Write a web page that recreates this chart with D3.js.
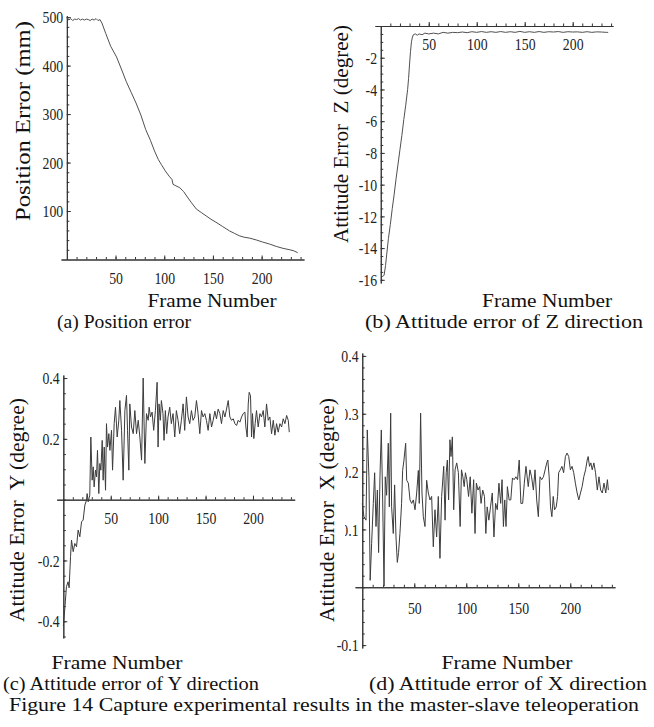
<!DOCTYPE html>
<html>
<head>
<meta charset="utf-8">
<script src="https://cdn.jsdelivr.net/npm/d3@7"></script>
<style>
body { margin: 0; background: #fff; }
svg { display: block; font-family: "Liberation Serif", "Times New Roman", serif; }
.axis text { font-family: "Liberation Serif", serif; font-size: 15px; fill: #222; }
.axis path, .axis line { stroke: #333; stroke-width: 1; }
.title { font-family: "Liberation Serif", serif; font-size: 21px; fill: #111; white-space: pre; }
.cap { font-family: "Liberation Serif", serif; fill: #111; }
</style>
</head>
<body>
<svg id="fig" width="654" height="727"></svg>
<script>
// tick labels
var frameTicks = [50, 100, 150, 200];
var posTicks = [100, 200, 300, 400, 500];
var zTicks = [-2, -4, -6, -8, -10, -12, -14, -16];
var yTicks = [0.4, 0.2, -0.2, -0.4];
var xTicks = [0.4, 0.3, 0.2, 0.1, -0.1];

// (a) position error
var framesA = [0, 2, 4, 6, 8, 10, 12, 14, 16, 18, 20, 22, 24, 26, 28, 30, 32, 34, 36, 40, 45, 51, 56, 61, 66, 71, 76, 81, 86, 90, 94, 97, 101, 105, 108, 109, 112, 116, 120, 123, 128, 133, 138, 143, 148, 153, 160, 167, 172, 177, 182, 188, 195, 201, 208, 215, 222, 229, 233, 237];
var posErr = [500, 494, 497, 493, 496, 495, 497, 494, 496, 494, 496, 495, 493, 496, 494, 497, 493, 495, 488, 466, 440, 418, 393, 367, 345, 323, 298, 268, 245, 224, 206, 196, 183, 172, 165, 155, 152, 148, 140, 131, 117, 104, 97, 90, 83, 77, 68, 59, 54, 49, 46, 44, 40, 36, 32, 27, 23, 20, 18, 14];

// (b) attitude error Z
var framesB = [0.5, 2, 3.5, 5, 6, 8, 10, 12, 14, 16, 18, 20, 22, 24, 26, 28, 29, 30, 31, 32, 33, 34, 36, 38, 40, 43, 46, 50, 55, 60, 65, 70, 75, 80, 85, 90, 95, 100, 105, 110, 115, 120, 125, 130, 135, 140, 145, 150, 155, 160, 165, 170, 175, 180, 185, 190, 195, 200, 205, 210, 215, 220, 225, 230, 235, 237];
var attZ = [-15.7, -15.8, -15.7, -15.1, -14.5, -13.4, -12.5, -11.5, -10.6, -9.6, -8.7, -7.8, -6.9, -5.9, -5.0, -4.0, -3.3, -2.4, -1.6, -1.0, -0.7, -0.55, -0.5, -0.58, -0.5, -0.55, -0.45, -0.5, -0.45, -0.5, -0.4, -0.45, -0.4, -0.42, -0.38, -0.42, -0.36, -0.4, -0.35, -0.4, -0.36, -0.4, -0.35, -0.4, -0.36, -0.4, -0.34, -0.4, -0.36, -0.4, -0.35, -0.4, -0.36, -0.38, -0.35, -0.4, -0.36, -0.38, -0.37, -0.4, -0.36, -0.4, -0.37, -0.38, -0.4, -0.4];

// (c) attitude error Y
var framesC = [0, 1.5, 3.3, 5, 6.1, 7.6, 8.6, 10.4, 12.1, 13.9, 15.6, 17.4, 19.2, 20.9, 22.7, 24.4, 25.1, 26.2, 27.9, 29.0, 30.4, 31.5, 32.5, 33.9, 35.0, 36.0, 37.4, 38.5, 39.6, 41.0, 42.0, 43.1, 44.5, 45.5, 46.6, 48.0, 49.1, 50.8, 51.9, 53.6, 55.0, 56.8, 58.5, 59.6, 61.4, 63.1, 64.9, 66.6, 67.7, 69.1, 70.1, 71.9, 73.7, 75.4, 77.2, 79.0, 80.7, 82.5, 84.2, 86.0, 87.7, 89.5, 90.5, 91.9, 93.6, 95.3, 97.1, 98.9, 99.9, 100.9, 102.3, 103.4, 105.1, 106.2, 107.6, 109.0, 110.4, 112.2, 113.9, 115.7, 117.5, 119.2, 121.0, 122.7, 124.5, 126.3, 128.0, 129.8, 131.6, 133.3, 135.1, 136.8, 138.6, 140.4, 142.1, 143.9, 145.7, 147.4, 149.2, 150.9, 152.7, 154.5, 156.3, 158.0, 159.8, 161.5, 163.3, 165.1, 166.8, 168.6, 170.4, 172.1, 173.9, 175.6, 177.4, 179.2, 180.9, 182.7, 184.4, 186.2, 188.0, 189.7, 191.5, 192.5, 193.9, 195.0, 196.0, 197.4, 198.5, 199.5, 200.9, 202.3, 203.7, 205.5, 207.3, 209.0, 210.8, 212.5, 214.3, 216.1, 217.8, 219.6, 221.4, 223.1, 224.9, 226.6, 228.4, 230.2, 231.9, 233.7, 235.5, 237.2, 238.3];
var attY = [-0.415, -0.36, -0.286, -0.27, -0.29, -0.187, -0.133, -0.171, -0.144, -0.155, -0.100, -0.122, -0.073, -0.067, -0.018, -0.002, 0.020, -0.007, 0.015, 0.206, 0.064, 0.108, 0.042, 0.097, 0.075, 0.162, 0.020, 0.119, 0.097, 0.195, 0.064, 0.173, 0.031, 0.250, 0.173, 0.217, 0.162, 0.228, 0.097, 0.250, 0.304, 0.206, 0.261, 0.326, 0.228, 0.064, 0.293, 0.343, 0.228, 0.097, 0.315, 0.239, 0.217, 0.293, 0.217, 0.261, 0.206, 0.130, 0.400, 0.119, 0.283, 0.261, 0.304, 0.272, 0.288, 0.228, 0.293, 0.386, 0.173, 0.315, 0.261, 0.326, 0.283, 0.195, 0.293, 0.217, 0.272, 0.304, 0.250, 0.283, 0.206, 0.293, 0.261, 0.217, 0.261, 0.315, 0.228, 0.338, 0.272, 0.250, 0.293, 0.261, 0.272, 0.326, 0.283, 0.217, 0.293, 0.272, 0.283, 0.261, 0.228, 0.283, 0.239, 0.261, 0.291, 0.266, 0.298, 0.283, 0.250, 0.293, 0.272, 0.298, 0.326, 0.272, 0.261, 0.266, 0.250, 0.244, 0.261, 0.255, 0.272, 0.283, 0.288, 0.239, 0.206, 0.315, 0.353, 0.342, 0.206, 0.283, 0.201, 0.250, 0.293, 0.239, 0.283, 0.272, 0.293, 0.239, 0.315, 0.261, 0.272, 0.217, 0.261, 0.212, 0.250, 0.222, 0.250, 0.239, 0.266, 0.250, 0.277, 0.261, 0.222];

// (d) attitude error X
var framesD = [0.0, 1.6, 3.6, 4.8, 6.4, 7.6, 9.0, 10.6, 11.9, 13.2, 14.5, 15.7, 17.0, 18.3, 19.6, 20.9, 22.1, 23.4, 25.0, 26.0, 27.3, 28.2, 29.8, 31.1, 32.4, 33.7, 34.9, 36.2, 37.8, 38.8, 40.1, 41.7, 42.7, 44.3, 45.9, 47.5, 49.1, 50.7, 52.3, 53.9, 54.8, 56.1, 57.4, 58.7, 60.3, 61.9, 63.5, 65.1, 66.7, 68.3, 69.9, 71.5, 73.1, 74.7, 76.3, 78.3, 79.6, 80.7, 81.8, 83.0, 84.3, 85.3, 86.6, 87.9, 89.2, 90.8, 92.4, 94.1, 95.4, 96.7, 98.0, 99.2, 100.5, 102.2, 103.8, 105.4, 107.1, 108.4, 109.7, 111.3, 112.9, 114.2, 115.8, 117.5, 118.8, 120.1, 121.7, 123.3, 125.0, 126.6, 128.2, 129.8, 131.4, 133.1, 134.4, 135.7, 137.0, 138.2, 139.5, 141.2, 142.8, 144.4, 146.0, 147.7, 149.3, 150.9, 152.5, 154.2, 155.8, 157.4, 159.6, 161.2, 162.8, 164.5, 166.1, 167.7, 169.3, 170.9, 172.5, 174.2, 175.8, 177.4, 178.4, 179.7, 181.0, 182.3, 183.6, 184.9, 186.5, 187.8, 188.8, 190.4, 192.0, 193.6, 195.3, 196.9, 198.5, 200.1, 201.7, 203.3, 204.9, 206.6, 208.2, 209.8, 211.4, 213.0, 214.7, 216.3, 217.2, 218.5, 219.8, 221.1, 222.7, 224.3, 226.0, 227.6, 229.2, 230.8, 232.4, 234.1, 235.7, 236.6];
var attX = [0.145, 0.122, 0.116, 0.272, 0.191, 0.012, 0.076, 0.145, 0.198, 0.105, 0.168, 0.060, 0.191, 0.272, 0.151, 0.002, 0.191, 0.159, 0.249, 0.139, 0.301, 0.139, 0.093, 0.177, 0.087, 0.043, 0.060, 0.093, 0.145, 0.202, 0.220, 0.249, 0.185, 0.180, 0.151, 0.145, 0.151, 0.134, 0.163, 0.202, 0.145, 0.301, 0.163, 0.122, 0.105, 0.185, 0.163, 0.151, 0.157, 0.070, 0.134, 0.087, 0.157, 0.050, 0.157, 0.209, 0.116, 0.198, 0.220, 0.151, 0.255, 0.226, 0.260, 0.134, 0.203, 0.215, 0.198, 0.105, 0.203, 0.191, 0.174, 0.198, 0.186, 0.157, 0.191, 0.128, 0.186, 0.093, 0.180, 0.168, 0.174, 0.145, 0.168, 0.157, 0.093, 0.139, 0.116, 0.139, 0.163, 0.087, 0.145, 0.134, 0.180, 0.145, 0.186, 0.105, 0.151, 0.105, 0.174, 0.151, 0.151, 0.189, 0.186, 0.191, 0.186, 0.220, 0.145, 0.145, 0.180, 0.209, 0.174, 0.203, 0.191, 0.168, 0.203, 0.151, 0.122, 0.191, 0.186, 0.191, 0.203, 0.215, 0.220, 0.191, 0.139, 0.122, 0.157, 0.134, 0.139, 0.157, 0.198, 0.203, 0.209, 0.198, 0.226, 0.232, 0.226, 0.203, 0.209, 0.198, 0.180, 0.163, 0.151, 0.163, 0.174, 0.191, 0.203, 0.220, 0.226, 0.209, 0.215, 0.203, 0.215, 0.198, 0.168, 0.191, 0.168, 0.163, 0.180, 0.163, 0.186, 0.168];

var svg = d3.select("#fig");
svg.append("rect").attr("width", 654).attr("height", 727).attr("fill", "#fff");

// the source figure is stretched vertically, so glyphs are tall and narrow
var TICK_SCALE = "scale(0.92,1.18)";

function drawPanel(p) {
    var x = d3.scaleLinear().domain(p.xExt).range(p.xPix);
    var y = d3.scaleLinear().domain(p.yExt).range(p.yPix);
    var g = svg.append("g");

    // x axis sits on y = 0, ticks pointing up (Mathematica style)
    var gx = g.append("g").attr("class", "axis").attr("transform", "translate(0," + y(0) + ")");
    gx.append("g").call(d3.axisBottom(x).tickValues(p.xMinor).tickSizeInner(-2.5).tickSizeOuter(0).tickFormat(""));
    gx.append("g").call(d3.axisBottom(x).tickValues(frameTicks).tickSizeInner(-4).tickSizeOuter(0)
        .tickPadding(p.xPad).tickFormat(function(d) { return String(d); }));

    // y axis sits on x = 0, ticks pointing right
    var gy = g.append("g").attr("class", "axis").attr("transform", "translate(" + x(0) + ",0)");
    gy.append("g").call(d3.axisLeft(y).tickValues(p.yMinor).tickSizeInner(-2.5).tickSizeOuter(0).tickFormat(""));
    gy.append("g").call(d3.axisLeft(y).tickValues(p.yMajor).tickSizeInner(-4).tickSizeOuter(0)
        .tickPadding(4).tickFormat(function(d) { return String(d); }));

    // d3 puts sans-serif on the axis group, switch it back to the serif face
    g.selectAll(".axis g").attr("font-family", "Liberation Serif, serif");
    g.selectAll(".axis text")
        .attr("font-family", "Liberation Serif, serif")
        .attr("transform", TICK_SCALE);

    var pts = p.frames.map(function(f, i) { return [f, p.values[i]]; });
    g.append("path")
        .datum(pts)
        .attr("fill", "none")
        .attr("stroke", p.color)
        .attr("stroke-width", 1)
        .attr("stroke-linejoin", "round")
        .attr("d", d3.line().x(function(d) { return x(d[0]); }).y(function(d) { return y(d[1]); }));

    // rotated y title; optional white box behind it like the original
    var t = svg.append("g").attr("transform", "translate(" + p.titleX + "," + p.titleY + ") rotate(-90)");
    if (p.titleBox) {
        t.append("rect").attr("x", -p.titleLen / 2).attr("y", -12).attr("width", p.titleLen).attr("height", p.titleBox).attr("fill", "#fff");
    }
    t.append("text")
        .attr("class", "title")
        .attr("text-anchor", "middle")
        .attr("dy", "0.34em")
        .attr("textLength", p.titleLen)
        .attr("lengthAdjust", "spacingAndGlyphs")
        .text(p.title);
}

drawPanel({
    xExt: [-6, 243.5], xPix: [61, 304],
    yExt: [0, 503], yPix: [259.5, 15.7],
    xMinor: d3.range(10, 241, 10), yMinor: d3.range(20, 501, 20), yMajor: posTicks,
    xPad: 10, frames: framesA, values: posErr, color: "#505050",
    title: "Position Error (mm)", titleX: 23, titleY: 121, titleLen: 200
});

drawPanel({
    xExt: [-6, 242], xPix: [375, 613],
    yExt: [0, -16.2], yPix: [26, 283],
    xMinor: d3.range(10, 241, 10), yMinor: d3.range(-0.5, -16.01, -0.5), yMajor: zTicks,
    xPad: 10, frames: framesB, values: attZ, color: "#505050",
    title: "Attitude Error  Z (degree)", titleX: 341, titleY: 134, titleLen: 218
});

drawPanel({
    xExt: [-7, 244], xPix: [56.7, 294.7],
    yExt: [0.41, -0.455], yPix: [375, 638],
    xMinor: d3.range(10, 241, 10), yMinor: d3.range(-0.45, 0.41, 0.05).map(function(v) { return Math.round(v * 100) / 100; }), yMajor: yTicks,
    xPad: 10, frames: framesC, values: attY, color: "#3c3c3c",
    title: "Attitude Error  Y (degree)", titleX: 17, titleY: 510, titleLen: 224
});

drawPanel({
    xExt: [-7, 243], xPix: [355, 615],
    yExt: [0.405, -0.105], yPix: [353, 648],
    xMinor: d3.range(10, 241, 10), yMinor: d3.range(-0.1, 0.401, 0.02).map(function(v) { return Math.round(v * 100) / 100; }), yMajor: xTicks,
    xPad: 12, frames: framesD, values: attX, color: "#3c3c3c",
    title: "Attitude Error  X (degree)", titleX: 327, titleY: 510, titleLen: 224, titleBox: 30
});

// bottom labels and captions (widths)
var labels = [
    {text: "Frame Number", x: 212, y: 307, w: 129},
    {text: "Frame Number", x: 547, y: 307, w: 130},
    {text: "(a) Position error", x: 124, y: 328, w: 134},
    {text: "(b) Attitude error of Z direction", x: 504, y: 328, w: 278},
    {text: "Frame Number", x: 117, y: 669, w: 131},
    {text: "Frame Number", x: 507, y: 669, w: 131},
    {text: "(c) Attitude error of Y direction", x: 131, y: 689.5, w: 256},
    {text: "(d) Attitude error of X direction", x: 508, y: 689.5, w: 278},
    {text: "Figure 14 Capture experimental results in the master-slave teleoperation", x: 324, y: 710.5, w: 630}
];

svg.selectAll(".cap")
    .data(labels)
    .enter()
    .append("text")
    .attr("class", "cap")
    .attr("text-anchor", "middle")
    .attr("x", function(d) { return d.x; })
    .attr("y", function(d) { return d.y; })
    .attr("textLength", function(d) { return d.w; })
    .attr("lengthAdjust", "spacingAndGlyphs")
    .style("font-size", "18px")
    .text(function(d) { return d.text; });
</script>
</body>
</html>
